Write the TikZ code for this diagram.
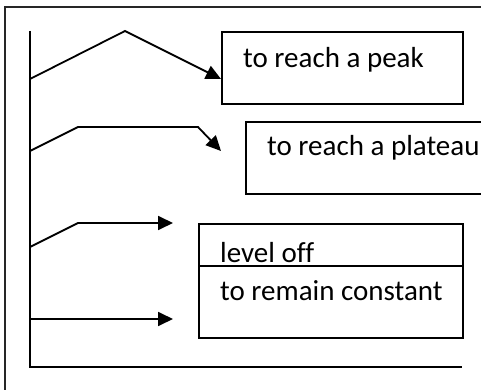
\documentclass[tikz,border=0pt]{standalone}
\usepackage{fontspec}
\setmainfont{Carlito}[Ligatures=NoCommon]
\usetikzlibrary{arrows.meta}
\begin{document}
\begin{tikzpicture}[x=1pt,y=-1pt,
  line/.style={line width=1.8pt, line join=miter},
  arr/.style={line, -{Triangle[length=15pt,width=14pt]}},
  box/.style={draw, line width=1.8pt, anchor=north west, inner sep=0pt},
  lbl/.style={anchor=base west, inner sep=0pt, font=\fontsize{29}{34}\selectfont}]
  \useasboundingbox (0,0) rectangle (481,390);
  \clip (0,0) rectangle (481,390);
  % outer frame, running past the page edge
  \draw[line width=1.8pt, black!85] (5,400) -- (5,7) -- (490,7);
  % axes
  \coordinate (top) at (30,31);
  \coordinate (origin) at (30,367);
  \coordinate (xend) at (462,367);
  \draw[line] (top) -- (origin) -- (xend);
  % boxes
  \node[box, minimum width=241pt, minimum height=72pt] (peakbox) at (221,31) {};
  \node[box, minimum width=260pt, minimum height=72pt] (platbox) at (245,121) {};
  \node[box, minimum width=264pt, minimum height=42pt] (levbox) at (198,223) {};
  \node[box, minimum width=264pt, minimum height=72pt] (constbox) at (198,265) {};
  % labels
  \node[lbl] (peak) at (243,68) {to reach a peak};
  \node[lbl] (plat) at (267,155) {to reach a plateau};
  \node[lbl] (lev) at (220,262) {level off};
  \node[lbl] (const) at (220,300) {to remain constant};
  % curve sketches
  \coordinate (p0) at (30,79);
  \coordinate (p1) at (125,31);
  \coordinate (p2) at (221,79);
  \draw[arr] (p0) -- (p1) -- (p2);
  \coordinate (q0) at (30,151);
  \coordinate (q1) at (78,127);
  \coordinate (q2) at (198,127);
  \coordinate (q3) at (221,151);
  \draw[arr] (q0) -- (q1) -- (q2) -- (q3);
  \coordinate (r0) at (30,247);
  \coordinate (r1) at (78,223);
  \coordinate (r2) at (173,223);
  \draw[arr] (r0) -- (r1) -- (r2);
  \coordinate (s0) at (30,319);
  \coordinate (s1) at (173,319);
  \draw[arr] (s0) -- (s1);
\end{tikzpicture}
\end{document}
